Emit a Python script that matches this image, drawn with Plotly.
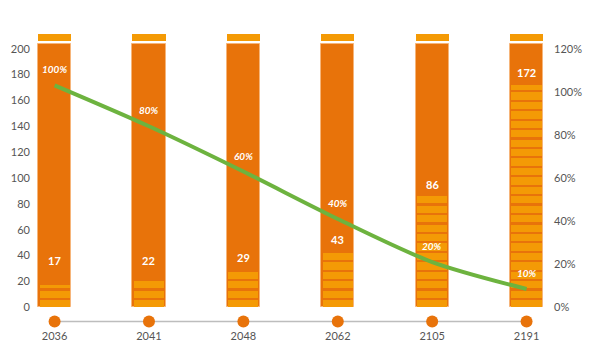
import plotly.graph_objects as go

# ---- data ----
years = ["2036", "2041", "2048", "2062", "2105", "2191"]
counts = [17, 22, 29, 43, 86, 172]
pct_labels = ["100%", "80%", "60%", "40%", "20%", "10%"]
line_pct = [103, 84, 63, 41, 21, 8.5]
left_ticks = [0, 20, 40, 60, 80, 100, 120, 140, 160, 180, 200]
right_ticks = [0, 20, 40, 60, 80, 100, 120]
right_tick_text = ["0%", "20%", "40%", "60%", "80%", "100%", "120%"]

# ---- styles ----
DARK = "#E8730A"
LIGHT = "#F49A05"
GREEN = "#6DB33F"
GREY_TXT = "#555555"
FONT = "Lato"
BAR_TOP = 204
CAP_BASE = 206
CAP_H = 5
STEP = 7.3
FILL = 5.6
BAR_W = 0.35
STRIPE_W = 0.32
DOT_Y = -11
LABEL_FLOOR = 27

x = list(range(len(years)))

fig = go.Figure()

# background full-height bars
fig.add_trace(go.Bar(x=x, y=[BAR_TOP] * len(x), width=BAR_W,
                     marker=dict(color=DARK, line=dict(color="#F6B57A", width=1)),
                     hoverinfo="skip", showlegend=False))
# caps
fig.add_trace(go.Bar(x=x, y=[CAP_H] * len(x), base=[CAP_BASE] * len(x), width=BAR_W,
                     marker=dict(color=LIGHT, line=dict(width=0)),
                     hoverinfo="skip", showlegend=False))

# striped value segments
sx, sb, sh = [], [], []
for i, v in zip(x, counts):
    b = 0.0
    while b < v - 0.5:
        sx.append(i)
        sb.append(b)
        sh.append(min(FILL, v - b))
        b += STEP
fig.add_trace(go.Bar(x=sx, y=sh, base=sb, width=STRIPE_W,
                     marker=dict(color=LIGHT, line=dict(width=0)),
                     hoverinfo="skip", showlegend=False))

# x axis baseline with dots
fig.add_trace(go.Scatter(x=[x[0], x[-1]], y=[DOT_Y, DOT_Y], mode="lines",
                         line=dict(color="#BDBDBD", width=1.5),
                         hoverinfo="skip", showlegend=False))
fig.add_trace(go.Scatter(x=x, y=[DOT_Y] * len(x), mode="markers",
                         marker=dict(color=DARK, size=12),
                         hoverinfo="skip", showlegend=False))

# percentage line
fig.add_trace(go.Scatter(x=x, y=line_pct, yaxis="y2", mode="lines",
                         line=dict(color=GREEN, width=4, shape="spline", smoothing=0.8),
                         hoverinfo="skip", showlegend=False))

# value labels
for i, v in zip(x, counts):
    fig.add_annotation(x=i, y=max(v, LABEL_FLOOR), text=str(v), showarrow=False,
                       yshift=12, font=dict(family=FONT, size=11, color="white", weight="bold"))

# percentage labels
for i, p, t in zip(x, line_pct, pct_labels):
    fig.add_annotation(x=i, y=p, yref="y2", text=t, showarrow=False, yshift=16,
                       font=dict(family=FONT, size=10, color="white", weight="bold", style="italic"))

fig.update_layout(
    width=600, height=364,
    margin=dict(l=23, r=55, t=20, b=44),
    paper_bgcolor="white", plot_bgcolor="white",
    barmode="overlay", bargap=0,
    font=dict(family=FONT, size=11, color=GREY_TXT),
    xaxis=dict(range=[-0.25, 5.28], tickvals=x, ticktext=years, showgrid=False,
               zeroline=False, showline=False, ticks="", automargin=False,
               tickfont=dict(size=11, color=GREY_TXT)),
    yaxis=dict(range=[-16, 216], tickvals=left_ticks, showgrid=False, zeroline=False,
               showline=False, ticks="", automargin=False,
               tickfont=dict(size=11, color=GREY_TXT)),
    yaxis2=dict(range=[-9.6, 129.6], tickvals=right_ticks, ticktext=right_tick_text,
                overlaying="y", side="right", showgrid=False, zeroline=False,
                showline=False, ticks="", automargin=False,
                tickfont=dict(size=11, color=GREY_TXT)),
)

fig.write_html("out.html")
